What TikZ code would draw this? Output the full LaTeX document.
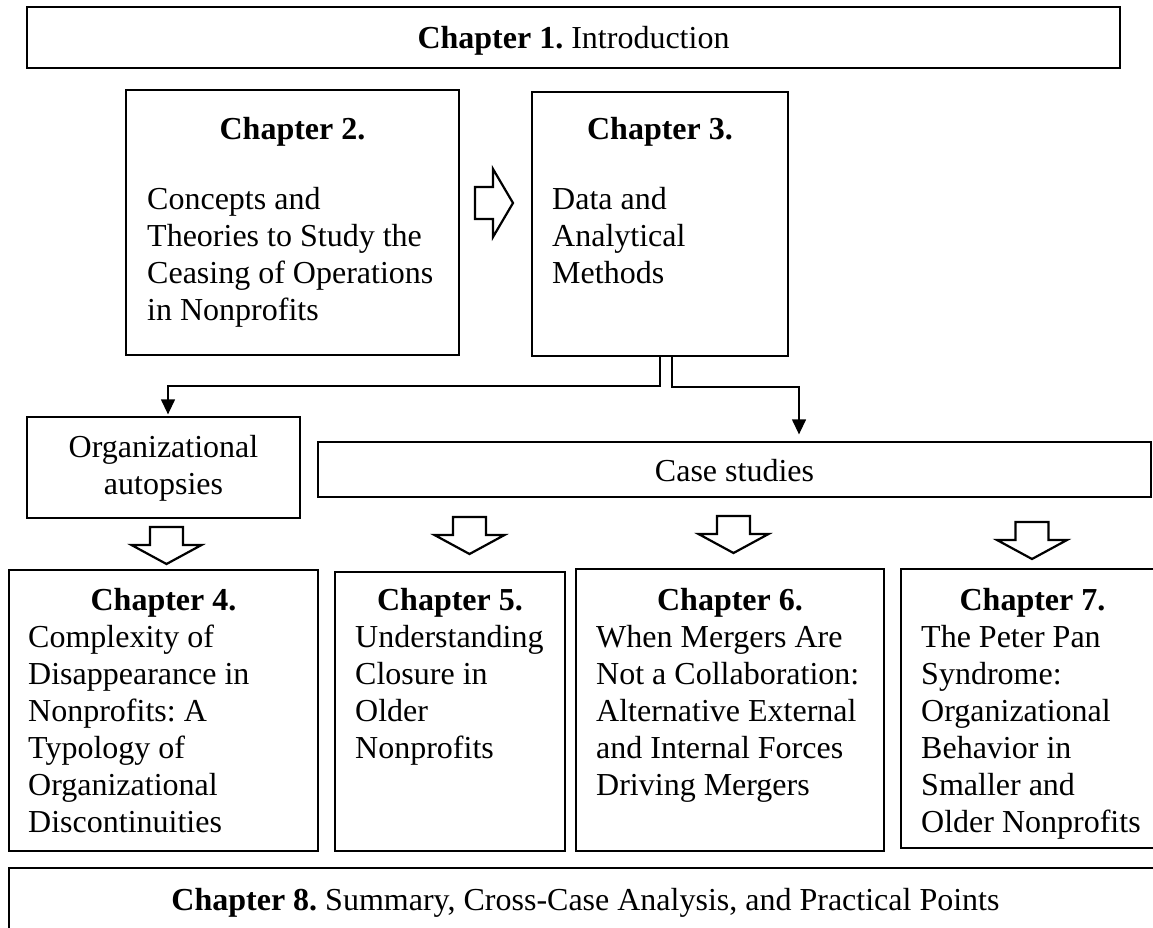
\documentclass[tikz,border=0pt]{standalone}
\usepackage{fontspec}
\setmainfont{Liberation Serif}
\usetikzlibrary{arrows.meta}
\newcommand\chapfont{\fontsize{32}{37}\selectfont}
\frenchspacing
\begin{document}
\begin{tikzpicture}[x=1pt,y=-1pt,
  font=\chapfont,
  box/.style={draw=black, line width=1.3pt, inner sep=0pt},
  body/.style={anchor=north west, align=left, inner sep=0pt},
  centred/.style={anchor=north, align=center, inner sep=0pt},
  head/.style={anchor=base, inner sep=0pt, font=\chapfont\bfseries},
  line/.style={anchor=base, inner sep=0pt},
  conn/.style={draw=black, line width=1.3pt, -{Triangle[length=15pt,width=14pt]}},
  hollow/.style={draw=black, line width=2.2pt, line join=miter, fill=white},
  hdown/.pic={\path[hollow] (-16.5,0) -- (16.5,0) -- (16.5,18) -- (35,18)
                -- (0,37) -- (-35,18) -- (-16.5,18) -- cycle;}
]
\useasboundingbox (0,0) rectangle (1153,927);
\clip (0,0) rectangle (1153,927);

% frames
\node[box, minimum width=1093pt, minimum height=61pt]  (ch1)  at (573.5,37.5)  {};
\node[box, minimum width=333pt,  minimum height=265pt] (ch2)  at (292.5,222.5) {};
\node[box, minimum width=256pt,  minimum height=264pt] (ch3)  at (660,224)     {};
\node[box, minimum width=273pt,  minimum height=101pt] (org)  at (163.5,467.5) {};
\node[box, minimum width=833pt,  minimum height=55pt]  (case) at (734.5,469.5) {};
\node[box, minimum width=309pt,  minimum height=281pt] (ch4)  at (163.5,710.5) {};
\node[box, minimum width=230pt,  minimum height=279pt] (ch5)  at (450,711.5)   {};
\node[box, minimum width=308pt,  minimum height=282pt] (ch6)  at (730,710)     {};
\node[box, minimum width=263pt,  minimum height=279pt] (ch7)  at (1032.5,708.5){};
\node[box, minimum width=1153pt, minimum height=92pt]  (ch8)  at (585.5,914)   {};

% texts
\node[line] (t1) at (573.5,48.5) {\textbf{Chapter 1.} Introduction};

\node[head] (h2) at (292.5,139) {Chapter 2.};
\node[body] (b2) at (147,187.1) {Concepts and\\Theories to Study the\\Ceasing of Operations\\in Nonprofits};

\node[head] (h3) at (660,139) {Chapter 3.};
\node[body] (b3) at (552,187.1) {Data and\\Analytical\\Methods};

\node[centred] (torg) at (163.5,435.1) {Organizational\\autopsies};
\node[line] (tcase) at (734.5,481) {Case studies};

\node[head] (h4) at (163.5,610) {Chapter 4.};
\node[body] (b4) at (28,625.1) {Complexity of\\Disappearance in\\Nonprofits: A\\Typology of\\Organizational\\Discontinuities};

\node[head] (h5) at (450,610) {Chapter 5.};
\node[body] (b5) at (355,625.1) {Understanding\\Closure in\\Older\\Nonprofits};

\node[head] (h6) at (730,610) {Chapter 6.};
\node[body] (b6) at (596,625.1) {When Mergers Are\\Not a Collaboration:\\Alternative External\\and Internal Forces\\Driving Mergers};

\node[head] (h7) at (1032.5,610) {Chapter 7.};
\node[body] (b7) at (921,625.1) {The Peter Pan\\Syndrome:\\Organizational\\Behavior in\\Smaller and\\Older Nonprofits};

\node[line] (t8) at (585.5,910) {\textbf{Chapter 8.} Summary, Cross-Case Analysis, and Practical Points};

% block arrows
\path[hollow] (475,187) -- (493,187) -- (493,169) -- (513,203) -- (493,237)
  -- (493,219) -- (475,219) -- cycle;
\pic at (166.5,527) {hdown};
\pic at (469.5,517) {hdown};
\pic at (733.5,516) {hdown};
\pic at (1032,522)  {hdown};

% connectors from chapter 3
\draw[conn] (ch3.south) -- (660,386) -| ([xshift=4.5pt,yshift=2pt]org.north);
\draw[conn] ([xshift=12pt]ch3.south) -- (672,387) -| ([xshift=64.5pt,yshift=7pt]case.north);
\end{tikzpicture}
\end{document}
